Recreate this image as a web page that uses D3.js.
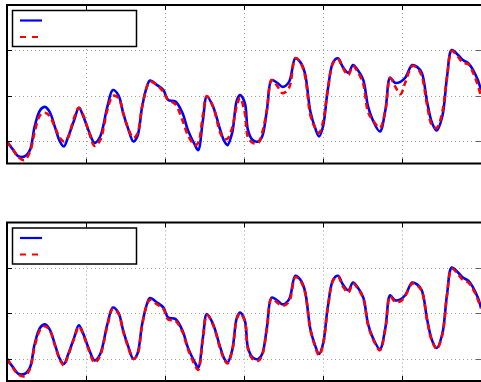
<!DOCTYPE html>
<html>
<head>
<meta charset="utf-8">
<script src="https://cdn.jsdelivr.net/npm/d3@7"></script>
<style>
  body { margin: 0; background: #fff; }
  svg { display: block; }
</style>
</head>
<body>
<div id="chart"></div>
<script>
// sample times (shared by all series)
const times = [0, 8, 14, 22, 29, 35, 42, 48, 54, 61, 67, 72, 77, 85, 91, 96, 103, 111, 118, 127,
  134, 141, 147, 153, 160, 165, 171, 177, 181, 190, 198, 204, 213, 222, 229, 238, 242, 248, 253, 261,
  270, 275, 279, 285, 291, 295, 301, 305, 311, 318, 323, 329, 335, 342, 349, 357, 365, 371, 377, 384,
  390, 395, 400, 406, 413, 419, 425, 432, 438, 444, 451, 457, 463, 472, 479, 485, 491, 498, 504, 513,
  519, 525, 532, 538, 544, 551, 557, 563, 571, 577, 584, 590, 596, 600];

// blue: measured signal (same in both panels)
const measured = [1.00, 0.81, 0.68, 0.67, 0.81, 1.33, 1.69, 1.76, 1.65, 1.30, 1.00, 0.89, 1.08, 1.47, 1.74, 1.58, 1.25, 0.97, 1.11, 1.76,
  2.13, 2.02, 1.63, 1.30, 1.00, 1.11, 1.76, 2.20, 2.34, 2.24, 2.13, 1.91, 1.88, 1.63, 1.25, 0.92, 0.81, 1.47, 1.99, 1.76,
  1.25, 1.01, 0.92, 1.19, 1.91, 2.02, 1.85, 1.25, 1.03, 1.00, 1.11, 1.69, 2.35, 2.29, 2.20, 2.31, 2.83, 2.75, 2.51, 1.66,
  1.30, 1.11, 1.33, 2.13, 2.75, 2.83, 2.64, 2.51, 2.68, 2.57, 2.35, 1.77, 1.47, 1.22, 1.69, 2.40, 2.29, 2.31, 2.40, 2.68,
  2.64, 2.51, 1.85, 1.41, 1.24, 1.55, 2.42, 3.01, 2.90, 2.79, 2.72, 2.57, 2.35, 2.13];

// red dashed, top panel
const estimateTop = [1.00, 0.81, 0.66, 0.59, 0.77, 1.21, 1.58, 1.63, 1.56, 1.30, 1.08, 1.00, 1.08, 1.52, 1.74, 1.60, 1.25, 0.90, 1.03, 1.69,
  2.00, 1.96, 1.63, 1.30, 1.08, 1.17, 1.76, 2.20, 2.32, 2.24, 2.09, 1.91, 1.82, 1.47, 1.14, 0.92, 0.97, 1.58, 2.00, 1.76,
  1.19, 1.06, 1.06, 1.30, 1.80, 1.96, 1.63, 1.10, 0.97, 0.97, 1.19, 1.69, 2.35, 2.22, 2.06, 2.18, 2.83, 2.75, 2.46, 1.58,
  1.30, 1.19, 1.43, 2.13, 2.73, 2.81, 2.62, 2.46, 2.66, 2.53, 2.26, 1.65, 1.47, 1.30, 1.69, 2.40, 2.22, 2.04, 2.29, 2.66,
  2.62, 2.44, 1.78, 1.36, 1.30, 1.65, 2.42, 2.99, 2.86, 2.73, 2.70, 2.51, 2.24, 1.99];

// red dashed, bottom panel
const estimateBottom = [1.00, 0.79, 0.66, 0.62, 0.78, 1.28, 1.64, 1.72, 1.63, 1.28, 0.98, 0.86, 1.06, 1.45, 1.71, 1.56, 1.22, 0.92, 1.08, 1.73,
  2.10, 2.00, 1.61, 1.28, 1.00, 1.09, 1.74, 2.18, 2.30, 2.20, 2.10, 1.87, 1.84, 1.60, 1.22, 0.86, 0.76, 1.45, 1.97, 1.74,
  1.22, 0.99, 0.90, 1.17, 1.89, 2.00, 1.83, 1.22, 1.00, 0.96, 1.08, 1.67, 2.33, 2.24, 2.17, 2.26, 2.80, 2.73, 2.48, 1.64,
  1.28, 1.08, 1.31, 2.11, 2.73, 2.81, 2.60, 2.46, 2.66, 2.55, 2.33, 1.75, 1.45, 1.19, 1.67, 2.38, 2.26, 2.27, 2.38, 2.66,
  2.62, 2.49, 1.83, 1.39, 1.22, 1.53, 2.40, 2.99, 2.86, 2.74, 2.68, 2.53, 2.31, 2.11];

const xTicks = [0, 100, 200, 300, 400, 500, 600];
const yTicks = [1, 2, 3, 4];

const W = 481, H = 382;
const left = 7, right = 481;

const svg = d3.select("#chart").append("svg")
  .attr("width", W)
  .attr("height", H);

const x = d3.scaleLinear().domain([0, 600]).range([left, right]);

const drawPanel = (top, bottom, blue, red, id) => {
  const y = d3.scaleLinear().domain([0.516, 4]).range([bottom, top]);
  const g = svg.append("g");

  g.append("clipPath").attr("id", id)
    .append("rect")
    .attr("x", left).attr("y", top)
    .attr("width", right - left + 2).attr("height", bottom - top);

  // grid
  const grid = g.append("g")
    .attr("stroke", "#a0a0a0")
    .attr("stroke-width", 1)
    .attr("stroke-dasharray", "1,3");
  grid.selectAll("line.v")
    .data(xTicks.slice(1, -1))
    .enter().append("line")
    .attr("x1", d => Math.round(x(d)) + 0.5).attr("x2", d => Math.round(x(d)) + 0.5)
    .attr("y1", top).attr("y2", bottom);
  grid.selectAll("line.h")
    .data(yTicks.slice(0, -1))
    .enter().append("line")
    .attr("x1", left).attr("x2", right + 2)
    .attr("y1", d => Math.round(y(d)) + 0.5).attr("y2", d => Math.round(y(d)) + 0.5);

  // series
  const line = d3.line()
    .x((d, i) => x(times[i]))
    .y(d => y(d))
    .curve(d3.curveCatmullRom);

  const plot = g.append("g").attr("clip-path", `url(#${id})`);
  plot.append("path")
    .datum(blue)
    .attr("d", line)
    .attr("fill", "none")
    .attr("stroke", "#0000ff")
    .attr("stroke-width", 2.6);
  plot.append("path")
    .datum(red)
    .attr("d", line)
    .attr("fill", "none")
    .attr("stroke", "#ff0000")
    .attr("stroke-width", 2.6)
    .attr("stroke-dasharray", "6,4");

  // inward ticks
  const ticks = g.append("g").attr("stroke", "#000").attr("stroke-width", 1);
  ticks.selectAll("line.tb")
    .data(xTicks.slice(1, -1))
    .enter().append("line")
    .attr("x1", d => Math.round(x(d)) + 0.5).attr("x2", d => Math.round(x(d)) + 0.5)
    .attr("y1", bottom).attr("y2", bottom - 5);
  ticks.selectAll("line.tt")
    .data(xTicks.slice(1, -1))
    .enter().append("line")
    .attr("x1", d => Math.round(x(d)) + 0.5).attr("x2", d => Math.round(x(d)) + 0.5)
    .attr("y1", top).attr("y2", top + 5);
  ticks.selectAll("line.tl")
    .data(yTicks.slice(0, -1))
    .enter().append("line")
    .attr("x1", left).attr("x2", left + 5)
    .attr("y1", d => Math.round(y(d)) + 0.5).attr("y2", d => Math.round(y(d)) + 0.5);
  ticks.selectAll("line.tr")
    .data(yTicks.slice(0, -1))
    .enter().append("line")
    .attr("x1", W - 5).attr("x2", W)
    .attr("stroke", "#666")
    .attr("y1", d => Math.round(y(d)) + 0.5).attr("y2", d => Math.round(y(d)) + 0.5);

  // frame (right side lies just outside the window)
  g.append("rect")
    .attr("x", left).attr("y", top)
    .attr("width", right - left + 3).attr("height", bottom - top)
    .attr("fill", "none")
    .attr("stroke", "#000")
    .attr("stroke-width", 2);

  // legend box (no labels)
  const lg = g.append("g");
  lg.append("rect")
    .attr("x", 12.5).attr("y", top + 5.5)
    .attr("width", 124).attr("height", 36)
    .attr("fill", "#fff")
    .attr("stroke", "#000")
    .attr("stroke-width", 1.5);
  lg.append("line")
    .attr("x1", 20).attr("x2", 42)
    .attr("y1", top + 15.5).attr("y2", top + 15.5)
    .attr("stroke", "#0000ff").attr("stroke-width", 2.2);
  lg.append("line")
    .attr("x1", 20).attr("x2", 40)
    .attr("y1", top + 32).attr("y2", top + 32)
    .attr("stroke", "#ff0000").attr("stroke-width", 2.2)
    .attr("stroke-dasharray", "6,6");
};

drawPanel(5, 163.5, measured, estimateTop, "clipTop");
drawPanel(222.5, 381, measured, estimateBottom, "clipBottom");
</script>
</body>
</html>
